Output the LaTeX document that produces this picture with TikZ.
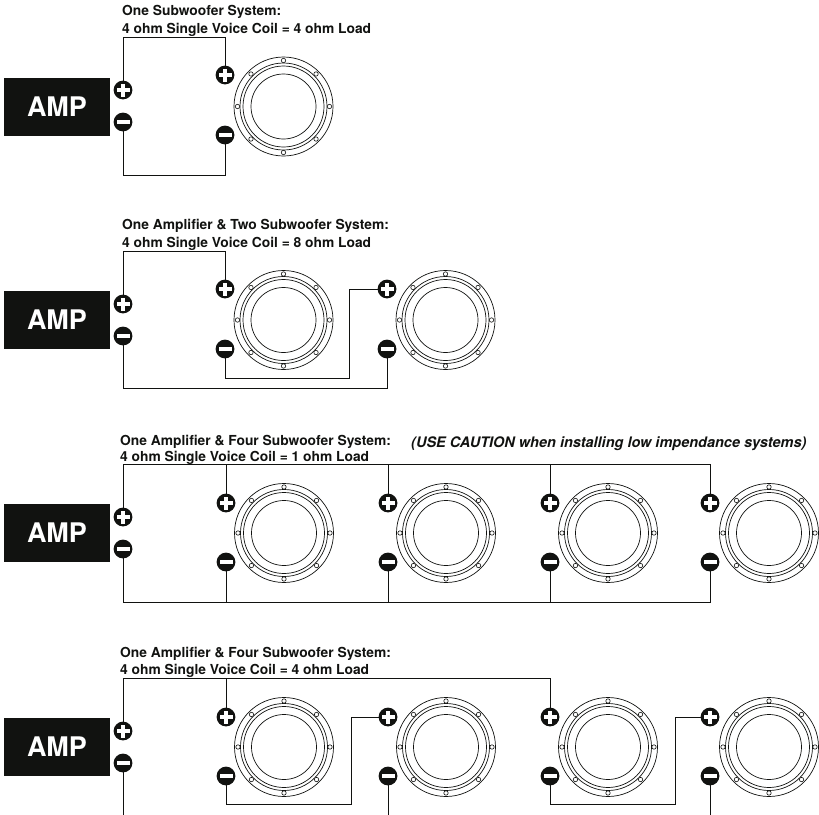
\documentclass[tikz,border=0pt]{standalone}
\usepackage{fontspec}
\setmainfont{TeX Gyre Heros}
\definecolor{ink}{HTML}{111210}
\tikzset{
  x=1pt,y=-1pt,
  wire/.style={draw=ink,line width=0.9pt,line cap=rect},
  ampbox/.style={fill=ink,draw=none,text=white,font=\fontsize{27}{27}\selectfont\bfseries,minimum width=106pt,minimum height=58pt,inner sep=0pt},
  heading/.style={anchor=base west,inner sep=0pt,text=ink,font=\fontsize{13.8}{13.8}\selectfont\bfseries},
  termbase/.style={circle,fill=ink,draw=none,minimum size=18.8pt,inner sep=0pt},
  plusterm/.style={termbase,path picture={
    \fill[white] ([xshift=-6.5pt,yshift=-2.3pt]path picture bounding box.center) rectangle ([xshift=6.5pt,yshift=2.3pt]path picture bounding box.center);
    \fill[white] ([xshift=-2.3pt,yshift=-6.5pt]path picture bounding box.center) rectangle ([xshift=2.3pt,yshift=6.5pt]path picture bounding box.center);}},
  minusterm/.style={termbase,path picture={
    \fill[white] ([xshift=-6.5pt,yshift=-1.8pt]path picture bounding box.center) rectangle ([xshift=6.5pt,yshift=1.8pt]path picture bounding box.center);}},
  ring/.style={draw=ink,line width=0.7pt,fill=none},
  screw/.style={draw=ink,line width=0.6pt,fill=white},
  speaker/.pic={
    \draw[ring] (0,0) circle[radius=49.5];
    \draw[ring] (0,0) circle[radius=43.5];
    \draw[ring] (0,0) circle[radius=40.5];
    \draw[ring] (0,0) circle[radius=32.5];
    \foreach \a in {0,45,...,315}{\draw[screw] (\a:46) circle[radius=2.2];}
  }
}
\begin{document}
\begin{tikzpicture}
\useasboundingbox (0,0) rectangle (819,814);
% ---------- panel 1
\node[heading] (h1a) at (122,15.5) {One Subwoofer System:};
\node[heading] (h1b) at (122,33) {4 ohm Single Voice Coil = 4 ohm Load};
\node[ampbox] (amp1) at (57,107) {AMP};
\node[plusterm] (a1p) at (123,90) {};
\node[minusterm] (a1m) at (123,122) {};
\node[plusterm] (s11p) at (225,75) {};
\node[minusterm] (s11m) at (225,135) {};
\pic at (283.5,106.5) {speaker};
\coordinate (c1t) at (123,37);
\coordinate (c1b) at (123,175);
\draw[wire] (a1p) -- (c1t) -| (s11p);
\draw[wire] (a1m) -- (c1b) -| (s11m);
% ---------- panel 2
\node[heading] (h2a) at (122,229) {One Amplifier \& Two Subwoofer System:};
\node[heading] (h2b) at (122,247) {4 ohm Single Voice Coil = 8 ohm Load};
\node[ampbox] (amp2) at (57,320) {AMP};
\node[plusterm] (a2p) at (123,304) {};
\node[minusterm] (a2m) at (123,336) {};
\node[plusterm] (s21p) at (225,289) {};
\node[minusterm] (s21m) at (225,349) {};
\node[plusterm] (s22p) at (387,289) {};
\node[minusterm] (s22m) at (387,349) {};
\pic at (283.5,320) {speaker};
\pic at (445.5,320) {speaker};
\coordinate (c2t) at (123,251);
\coordinate (c2b) at (123,388);
\coordinate (c2m) at (349,378);
\draw[wire] (a2p) -- (c2t) -| (s21p);
\draw[wire] (a2m) -- (c2b) -| (s22m);
\draw[wire] (s21m) |- (c2m) |- (s22p);
% ---------- panel 3
\node[heading] (h3a) at (120,445) {One Amplifier \& Four Subwoofer System:};
\node[heading] (h3b) at (120,461) {4 ohm Single Voice Coil = 1 ohm Load};
\node[heading,font=\fontsize{14.5}{14.5}\selectfont\bfseries\itshape] (h3c) at (411,447) {(USE CAUTION when installing low impendance systems)};
\node[ampbox] (amp3) at (57,533) {AMP};
\node[plusterm] (a3p) at (123,517) {};
\node[minusterm] (a3m) at (123,549) {};
\node[plusterm] (s31p) at (226,503) {};
\node[minusterm] (s31m) at (226,562) {};
\node[plusterm] (s32p) at (388,503) {};
\node[minusterm] (s32m) at (388,562) {};
\node[plusterm] (s33p) at (550,503) {};
\node[minusterm] (s33m) at (550,562) {};
\node[plusterm] (s34p) at (710,503) {};
\node[minusterm] (s34m) at (710,562) {};
\pic at (284,533) {speaker};
\pic at (446,533) {speaker};
\pic at (608,533) {speaker};
\pic at (769,533) {speaker};
\coordinate (c3t) at (123,464);
\coordinate (c3b) at (123,602);
\draw[wire] (a3p) -- (c3t) -| (s34p);
\draw[wire] (a3m) -- (c3b) -| (s34m);
\draw[wire] (s31p) -- (s31p |- c3t);
\draw[wire] (s32p) -- (s32p |- c3t);
\draw[wire] (s33p) -- (s33p |- c3t);
\draw[wire] (s31m) -- (s31m |- c3b);
\draw[wire] (s32m) -- (s32m |- c3b);
\draw[wire] (s33m) -- (s33m |- c3b);
% ---------- panel 4
\node[heading] (h4a) at (120,657) {One Amplifier \& Four Subwoofer System:};
\node[heading] (h4b) at (120,674) {4 ohm Single Voice Coil = 4 ohm Load};
\node[ampbox] (amp4) at (57,747) {AMP};
\node[plusterm] (a4p) at (123,731) {};
\node[minusterm] (a4m) at (123,763) {};
\node[plusterm] (s41p) at (226,717) {};
\node[minusterm] (s41m) at (226,776) {};
\node[plusterm] (s42p) at (388,717) {};
\node[minusterm] (s42m) at (388,776) {};
\node[plusterm] (s43p) at (550,717) {};
\node[minusterm] (s43m) at (550,776) {};
\node[plusterm] (s44p) at (710,717) {};
\node[minusterm] (s44m) at (710,776) {};
\pic at (284,747) {speaker};
\pic at (446,747) {speaker};
\pic at (608,747) {speaker};
\pic at (769,747) {speaker};
\coordinate (c4t) at (123,678);
\coordinate (c4m1) at (351,804);
\coordinate (c4m2) at (675,804);
\coordinate (e41) at (123,815);
\coordinate (e42) at (388,815);
\coordinate (e44) at (710,815);
\draw[wire] (a4p) -- (c4t) -| (s43p);
\draw[wire] (s41p) -- (s41p |- c4t);
\draw[wire] (s41m) |- (c4m1) |- (s42p);
\draw[wire] (s43m) |- (c4m2) |- (s44p);
\draw[wire] (a4m) -- (e41);
\draw[wire] (s42m) -- (e42);
\draw[wire] (s44m) -- (e44);
\end{tikzpicture}
\end{document}
